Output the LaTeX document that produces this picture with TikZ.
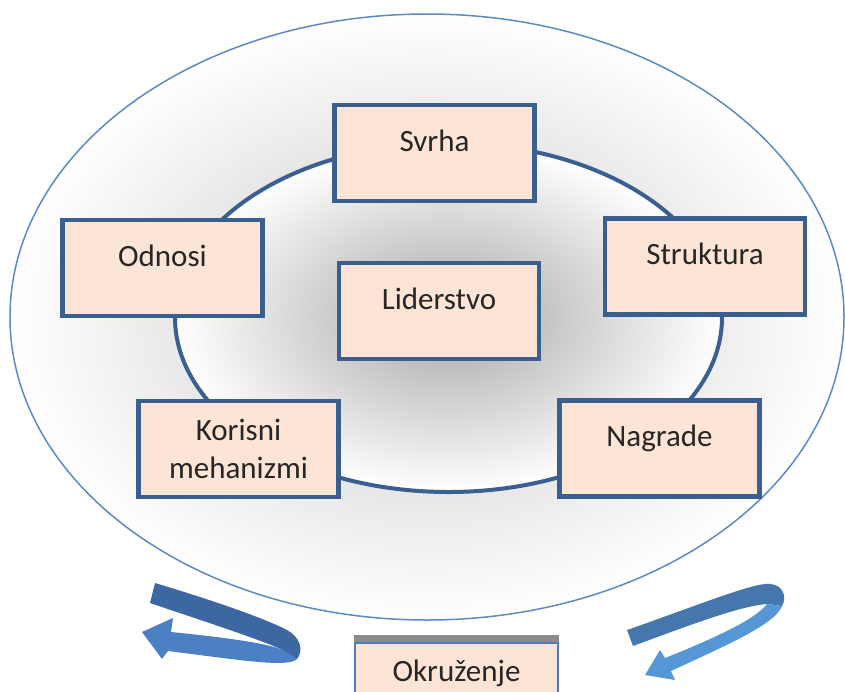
\documentclass[tikz,border=0pt]{standalone}
\usepackage{fontspec}
\setmainfont{Carlito}
\definecolor{boxfill}{HTML}{FCE5D6}
\definecolor{boxline}{HTML}{3A5F8F}
\definecolor{outerline}{HTML}{5B8BC1}
\definecolor{innerline}{HTML}{3B5F8E}
\definecolor{arrowdarkL}{HTML}{3C67A2}
\definecolor{arrowlightL}{HTML}{4C80C5}
\definecolor{arrowdarkR}{HTML}{4577AC}
\definecolor{arrowlightR}{HTML}{5597D4}
\definecolor{okrline}{HTML}{4A7EBB}
\definecolor{bargray}{HTML}{8C8C8C}
\definecolor{outershade}{HTML}{C6C6C6}
\definecolor{innershade}{HTML}{A6A6A6}
\tikzset{
  box/.style={draw=boxline, line width=4.3pt, fill=boxfill, minimum width=200pt,
    minimum height=96pt, inner sep=0pt, font=\fontsize{31}{38}\selectfont, text=black!85},
  oneline/.style={text height=46pt, text depth=50pt},
  okrbox/.style={draw=okrline, line width=1.5pt, fill=boxfill, minimum width=203pt,
    inner sep=0pt, text height=38pt, text depth=40pt, font=\fontsize{31}{38}\selectfont, text=black!85}
}
\begin{document}
\begin{tikzpicture}[x=1pt, y=-1pt]
\useasboundingbox (0,0) rectangle (845,691);
\clip (0,0) rectangle (845,691);
% outer ellipse
\shade[inner color=outershade, outer color=white] (427,317) ellipse [x radius=417pt, y radius=303pt];
\draw[outerline, line width=1.5pt] (427,317) ellipse [x radius=417pt, y radius=303pt];
% inner ellipse
\shade[inner color=innershade, outer color=white] (448.5,317.5) ellipse [x radius=273.5pt, y radius=174.5pt];
\draw[innerline, line width=4pt] (448.5,317.5) ellipse [x radius=273.5pt, y radius=174.5pt];
% boxes
\node[box, oneline] (svrha) at (434.5,153) {Svrha};
\node[box, oneline] (odnosi) at (162.5,268) {Odnosi};
\node[box, oneline] (struktura) at (705,266.5) {Struktura};
\node[box, oneline] (liderstvo) at (439,311) {Liderstvo};
\node[box, align=center] (korisni) at (238.5,449) {Korisni\\mehanizmi};
\node[box, oneline] (nagrade) at (659.5,448.5) {Nagrade};
% left curl arrow
\fill[arrowdarkL] (155,583) .. controls (205,598) and (262,617) .. (287,630)
  .. controls (300,637) and (304,650) .. (297,659) -- (281,649)
  .. controls (250,636) and (200,620) .. (150,603) -- cycle;
\fill[arrowlightL] (297,659) .. controls (288,668) and (240,660) .. (168,651)
  -- (162,659) -- (142,632) -- (173,618) -- (171,632)
  .. controls (220,637) and (260,642) .. (281,649) -- cycle;
% right curl arrow
\fill[arrowdarkR] (627,630) .. controls (690,608) and (745,586) .. (765,584)
  .. controls (782,582) and (788,596) .. (782,606) -- (767,604)
  .. controls (740,606) and (690,625) .. (633,646) -- cycle;
\fill[arrowlightR] (782,606) .. controls (775,625) and (720,648) .. (671,671)
  -- (675,680) -- (645,675) -- (660,650) -- (665,658)
  .. controls (710,640) and (755,620) .. (767,604) -- cycle;
% environment box
\node[okrbox] (okr) at (456.5,682) {Okruženje};
\fill[bargray] ([yshift=7pt]okr.north west) rectangle (okr.north east);
\end{tikzpicture}
\end{document}
